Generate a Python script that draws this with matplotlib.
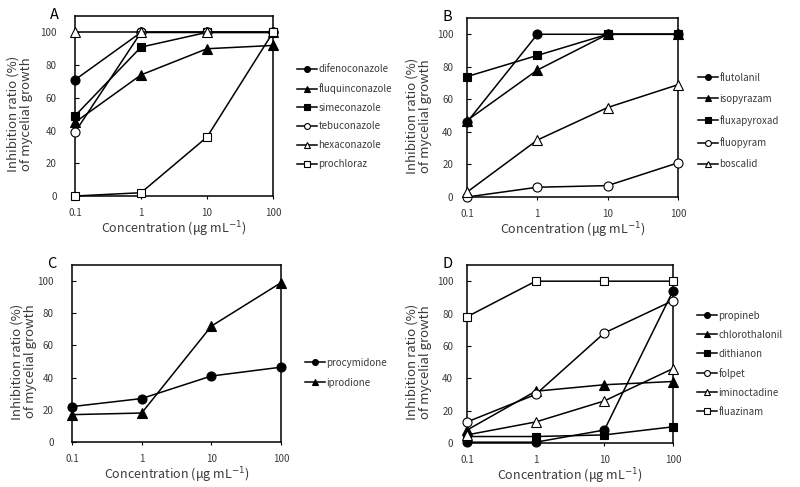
import numpy as np
import matplotlib
matplotlib.use("Agg")
import matplotlib.pyplot as plt

plt.rcParams["font.family"] = ["Noto Sans CJK KR", "DejaVu Sans"]

conc = [0.1, 1, 10, 100]

# panel A
names_a = ["difenoconazole", "fluquinconazole", "simeconazole",
           "tebuconazole", "hexaconazole", "prochloraz"]
difenoconazole = [71, 100, 100, 100]
fluquinconazole = [45, 74, 90, 92]
simeconazole = [49, 91, 100, 100]
tebuconazole = [39, 100, 100, 100]
hexaconazole = [100, 100, 100, 100]
prochloraz = [0, 2, 36, 100]

# panel B
names_b = ["flutolanil", "isopyrazam", "fluxapyroxad", "fluopyram", "boscalid"]
flutolanil = [46, 100, 100, 100]
isopyrazam = [47, 78, 100, 100]
fluxapyroxad = [74, 87, 100, 100]
fluopyram = [0, 6, 7, 21]
boscalid = [3, 35, 55, 69]

# panel C
names_c = ["procymidone", "iprodione"]
procymidone = [22, 27, 41, 46.5]
iprodione = [17, 18, 72, 99]

# panel D
names_d = ["propineb", "chlorothalonil", "dithianon", "folpet",
           "iminoctadine", "fluazinam"]
propineb = [0.5, 0.5, 8, 94]
chlorothalonil = [8, 32, 36, 38]
dithianon = [4, 4, 5, 10]
folpet = [13, 30, 68, 88]
iminoctadine = [5, 13, 26, 46]
fluazinam = [78, 100, 100, 100]

markers = [("o", "k"), ("^", "k"), ("s", "k"),
           ("o", "w"), ("^", "w"), ("s", "w")]

# letter, names, data, axes box (px), legend top-left (px), legend spacing,
# y tick pad, ylabel offset (px)
panels = [
    ("A", names_a, [difenoconazole, fluquinconazole, simeconazole,
                    tebuconazole, hexaconazole, prochloraz],
     (75, 16, 273, 196), (297, 64.3), 0.9, 14, 42),
    ("B", names_b, [flutolanil, isopyrazam, fluxapyroxad, fluopyram, boscalid],
     (467, 18, 678, 197), (698, 72.6), 1.15, 11, 35),
    ("C", names_c, [procymidone, iprodione],
     (72, 265, 281, 442), (305, 357.6), 1.05, 14, 35),
    ("D", names_d, [propineb, chlorothalonil, dithianon, folpet,
                    iminoctadine, fluazinam],
     (467, 265, 673, 443), (697, 310.6), 0.93, 11, 35),
]

W, H = 800, 487
fig = plt.figure(figsize=(W / 100, H / 100), dpi=100)
txt = "#3a3a3a"

for letter, names, series, box, legpos, lsp, ypad, yoff in panels:
    x0, y0, x1, y1 = box
    ax = fig.add_axes([x0 / W, 1 - y1 / H, (x1 - x0) / W, (y1 - y0) / H])
    handles = []
    for i, (name, vals) in enumerate(zip(names, series)):
        shape, fc = markers[i]
        (ln,) = ax.plot(conc, vals, color="k", lw=1.1, marker=shape,
                        mfc=fc, mec="k", mew=0.8, ms=6.5 if shape != "s" else 6,
                        clip_on=False, zorder=3, label=name)
        handles.append(ln)
    ax.set_xscale("log")
    ax.set_xlim(0.1, 100)
    ax.set_ylim(0, 110)
    ax.set_xticks(conc)
    ax.set_xticklabels(["0.1", "1", "10", "100"])
    ax.minorticks_off()
    ax.set_yticks(range(0, 101, 20))
    ax.tick_params(axis="y", direction="in", length=3, labelsize=7,
                   labelcolor=txt, pad=ypad - 1)
    ax.tick_params(axis="x", direction="out", length=2, labelsize=7,
                   labelcolor=txt, pad=6.5)
    for s in ax.spines.values():
        s.set_linewidth(1.1)
    ax.set_xlabel("Concentration (μg mL$^{-1}$)", fontsize=9, color=txt,
                  labelpad=1.5)
    ax.set_ylabel("Inhibition ratio (%)\nof mycelial growth", fontsize=9.5,
                  color=txt, linespacing=1.0)
    ax.yaxis.set_label_coords(-yoff / (x1 - x0), 50 / 110)
    fig.text((x0 - 25) / W, 1 - (y0 - 1) / H, letter, fontsize=10.5,
             color="k", ha="left", va="center")
    fig.legend(handles=handles, loc="upper left",
               bbox_to_anchor=(legpos[0] / W, 1 - legpos[1] / H),
               frameon=False, fontsize=7, handlelength=2.06,
               handletextpad=0.15, labelspacing=lsp, borderpad=0,
               borderaxespad=0, markerscale=0.65, labelcolor=txt)

fig.savefig("out.png", dpi=100, facecolor="white")
